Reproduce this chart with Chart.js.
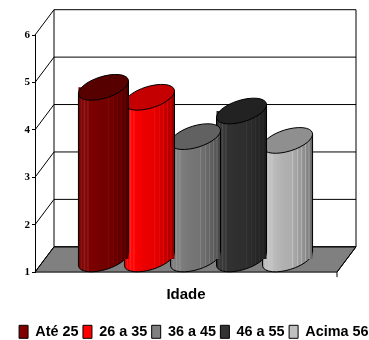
<!DOCTYPE html>
<html lang="en">
<head>
<meta charset="UTF-8">
<title>Idade</title>
<script src="https://cdn.jsdelivr.net/npm/chart.js"></script>
<style>
  body { margin: 0; background: #fff; }
  canvas { display: block; }
</style>
</head>
<body>
<canvas id="idadeChart" width="369" height="340"></canvas>
<script>
  const categories = ['Idade'];
  const seriesNames = ['Até 25', '26 a 35', '36 a 45', '46 a 55', 'Acima 56'];
  const seriesValues = [4.63, 4.42, 3.59, 4.13, 3.51];
  const legendColors = ['#800000', '#ff0000', '#808080', '#333333', '#c0c0c0'];
  const topColors = ['#560000', '#c40000', '#616161', '#222222', '#8f8f8f'];
  const yTicks = [1, 2, 3, 4, 5, 6];

  // depth of the fake 3d box, in pixels
  const depthX = 19, depthY = -25.3;
  const tilt = -0.3, rx = 26, ry = 10.8;
  const cross = (rx * rx - ry * ry) * Math.sin(-tilt) * Math.cos(tilt);
  const halfW = Math.sqrt(rx * rx * Math.cos(tilt) ** 2 + ry * ry * Math.sin(tilt) ** 2);
  const tangent = cross / halfW;

  // cylinder shading across the bar: [position, brightness]
  const shading = [
    [0, 0.72], [0.03, 0.95], [0.06, 1.08], [0.09, 0.98], [0.12, 1.12], [0.15, 1.0], [0.19, 1.1], [0.22, 0.98],
    [0.4, 0.92], [0.58, 0.9], [0.6, 1.02], [0.62, 0.88], [0.68, 0.84], [0.7, 0.98], [0.72, 0.82],
    [0.76, 0.8], [0.78, 0.94], [0.8, 0.76], [0.84, 0.74], [0.86, 0.9], [0.88, 0.7],
    [0.91, 0.68], [0.93, 0.84], [0.95, 0.62], [1, 0.5]
  ];

  function shade(hex, k) {
    const n = parseInt(hex.slice(1), 16);
    const ch = [n >> 16, (n >> 8) & 255, n & 255].map(v => {
      const out = k <= 1 ? v * k : v + (255 - v) * (k - 1);
      return Math.round(out);
    });
    return `rgb(${ch[0]},${ch[1]},${ch[2]})`;
  }

  const walls = {
    id: 'walls',
    beforeDatasetsDraw(chart) {
      const c = chart.ctx, a = chart.chartArea, y = chart.scales.y;
      const base = y.getPixelForValue(1);
      c.save();
      // floor
      c.beginPath();
      c.moveTo(a.left, base);
      c.lineTo(a.left + depthX, base + depthY);
      c.lineTo(a.right + depthX, base + depthY);
      c.lineTo(a.right, base);
      c.closePath();
      c.fillStyle = '#808080';
      c.fill();
      c.strokeStyle = '#000';
      c.lineWidth = 1;
      c.stroke();
      yTicks.forEach(v => {
        const p = y.getPixelForValue(v);
        c.beginPath();
        c.moveTo(a.left, p);
        c.lineTo(a.left + depthX, p + depthY);
        c.lineTo(a.right + depthX, p + depthY);
        c.stroke();
      });
      // wall edges
      const top = y.getPixelForValue(6);
      c.beginPath();
      c.moveTo(a.left + depthX, top + depthY);
      c.lineTo(a.left + depthX, base + depthY);
      c.moveTo(a.right + depthX, top + depthY);
      c.lineTo(a.right + depthX, base + depthY);
      c.lineTo(a.right, base);
      c.lineTo(a.right, base + 5);
      c.stroke();
      c.restore();
    },
    beforeDatasetDraw(chart, args) {
      const i = args.index, c = chart.ctx;
      const bar = chart.getDatasetMeta(i).data[0];
      const left = bar.x - bar.width / 2, right = bar.x + bar.width / 2;
      const g = c.createLinearGradient(left, 0, right, 0);
      shading.forEach(s => g.addColorStop(s[0], shade(legendColors[i], s[1])));
      bar.options = Object.assign({}, bar.options, { backgroundColor: g, borderWidth: 0 });
      c.save();
      // the cylinder stands in the middle of the box depth
      c.translate(depthX / 2, depthY / 2);
      c.fillStyle = g;
      c.strokeStyle = '#000';
      c.lineWidth = 1;
      c.beginPath();
      c.ellipse(bar.x, bar.base, rx, ry, tilt, 0, Math.PI * 2);
      c.fill();
      c.stroke();
      c.beginPath();
      c.moveTo(left, bar.y + tangent);
      c.lineTo(right, bar.y - tangent);
      c.lineTo(right, bar.base - tangent);
      c.lineTo(left, bar.base + tangent);
      c.closePath();
      c.fill();
    },
    afterDatasetDraw(chart, args) {
      const i = args.index, c = chart.ctx;
      const bar = chart.getDatasetMeta(i).data[0];
      const left = bar.x - bar.width / 2, right = bar.x + bar.width / 2;
      c.strokeStyle = '#000';
      c.lineWidth = 1;
      c.beginPath();
      c.moveTo(left, bar.y + tangent);
      c.lineTo(left, bar.base + tangent);
      c.moveTo(right, bar.y - tangent);
      c.lineTo(right, bar.base - tangent);
      c.stroke();
      c.beginPath();
      c.ellipse(bar.x, bar.y, rx, ry, tilt, 0, Math.PI * 2);
      c.fillStyle = topColors[i];
      c.fill();
      c.stroke();
      c.restore();
    }
  };

  new Chart(document.getElementById('idadeChart'), {
    type: 'bar',
    data: {
      labels: categories,
      datasets: seriesNames.map((name, i) => ({
        label: name,
        data: [seriesValues[i]],
        base: 1,
        backgroundColor: legendColors[i],
        borderWidth: 0,
        categoryPercentage: 0.762,
        barPercentage: 1.087
      }))
    },
    plugins: [walls],
    options: {
      responsive: false,
      animation: false,
      // negative padding pushes the legend tight against the bottom right corner
      layout: { padding: { top: 35, bottom: -9, right: -4 } },
      scales: {
        x: {
          grid: { display: false },
          border: { display: false },
          ticks: { display: false },
          title: {
            display: true,
            text: 'Idade',
            color: '#000',
            padding: { top: 0, bottom: 16 },
            font: { family: '"Liberation Sans"', size: 15, weight: 'bold' }
          },
          afterFit(scale) { scale.height = 48; }
        },
        y: {
          min: 1,
          max: 6,
          grid: { drawOnChartArea: false, color: '#000', tickLength: 3 },
          border: { display: true, color: '#000' },
          afterBuildTicks(scale) { scale.ticks = yTicks.map(v => ({ value: v })); },
          afterFit(scale) { scale.width = 35; },
          ticks: {
            color: '#000',
            padding: 2,
            font: { family: '"Liberation Serif"', size: 11, weight: 'bold' }
          }
        },
        // empty axis, only keeps the plot clear of the right edge
        spacer: {
          position: 'right',
          grid: { display: false },
          border: { display: false },
          ticks: { display: false },
          afterFit(scale) { scale.width = 36; }
        }
      },
      plugins: {
        tooltip: { enabled: false },
        legend: {
          position: 'bottom',
          align: 'end',
          labels: {
            color: '#000',
            boxWidth: 9,
            boxHeight: 13,
            padding: 4.5,
            font: { family: '"Liberation Sans"', size: 14.4, weight: 'bold' },
            generateLabels() {
              return seriesNames.map((name, i) => ({
                text: name,
                fillStyle: legendColors[i],
                strokeStyle: '#000',
                lineWidth: 1,
                datasetIndex: i
              }));
            }
          }
        }
      }
    }
  });
</script>
</body>
</html>
